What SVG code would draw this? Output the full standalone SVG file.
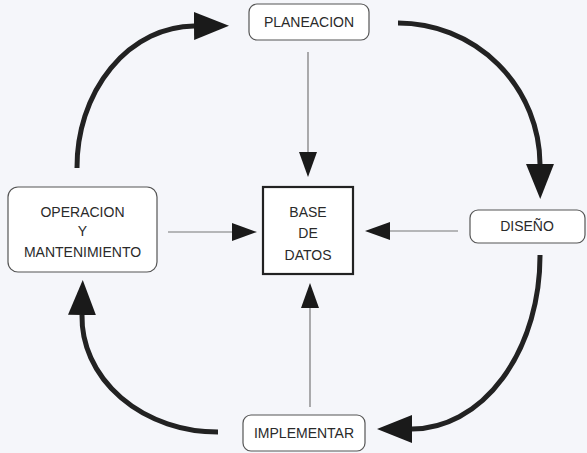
<svg xmlns="http://www.w3.org/2000/svg" width="587" height="453" viewBox="0 0 587 453">
<defs>
<style>
.box{fill:#ffffff;stroke:#555555;stroke-width:1.2}
.db{fill:#ffffff;stroke:#222222;stroke-width:2.2}
.t{font-family:"Liberation Sans",Arial,sans-serif;font-size:14px;fill:#2a2a2a;text-anchor:middle}
.thin{fill:none;stroke:#777777;stroke-width:1.2}
.thick{fill:none;stroke:#222222;stroke-width:5}
</style>
<marker id="big" markerUnits="userSpaceOnUse" viewBox="0 0 35 28" refX="0" refY="14" markerWidth="35" markerHeight="28" orient="auto">
<path d="M0,0 L35,14 L0,28 Z" fill="#1a1a1a"/>
</marker>
<marker id="small" markerUnits="userSpaceOnUse" viewBox="0 0 25 18" refX="0" refY="9" markerWidth="25" markerHeight="18" orient="auto">
<path d="M0,0 L25,9 L0,18 Z" fill="#1a1a1a"/>
</marker>
</defs>
<rect width="587" height="453" fill="#f5f6fa"/>
<g id="connectors">
<path class="thick" d="M77,168 A118,141 0 0 1 194,26" marker-end="url(#big)"/>
<path class="thick" d="M398,23 A142,142 0 0 1 540,164" marker-end="url(#big)"/>
<path class="thick" d="M540,255 A128,173 0 0 1 412,429" marker-end="url(#big)"/>
<path class="thick" d="M218,432 A136,115 0 0 1 82,315" marker-end="url(#big)"/>
<path class="thin" d="M308,52 L308,152" marker-end="url(#small)"/>
<path class="thin" d="M310,407 L310,308" marker-end="url(#small)"/>
<path class="thin" d="M168,232 L232,232" marker-end="url(#small)"/>
<path class="thin" d="M458,231 L390,231" marker-end="url(#small)"/>
</g>
<g id="planeacion">
<rect class="box" x="249" y="4" width="120" height="36" rx="8"/>
<text class="t" x="309" y="27">PLANEACION</text>
</g>
<g id="operacion">
<rect class="box" x="8" y="187" width="149" height="85" rx="10"/>
<text class="t" x="82.5" y="217">OPERACION</text>
<text class="t" x="82.5" y="236">Y</text>
<text class="t" x="82.5" y="257">MANTENIMIENTO</text>
</g>
<g id="base">
<rect class="db" x="263" y="187" width="90" height="87"/>
<text class="t" x="308" y="217">BASE</text>
<text class="t" x="308" y="238">DE</text>
<text class="t" x="308" y="260">DATOS</text>
</g>
<g id="diseno">
<rect class="box" x="470" y="210" width="115" height="33" rx="8"/>
<text class="t" x="527" y="231">DISEÑO</text>
</g>
<g id="implementar">
<rect class="box" x="243" y="415" width="122" height="36" rx="8"/>
<text class="t" x="304" y="438">IMPLEMENTAR</text>
</g>
</svg>
